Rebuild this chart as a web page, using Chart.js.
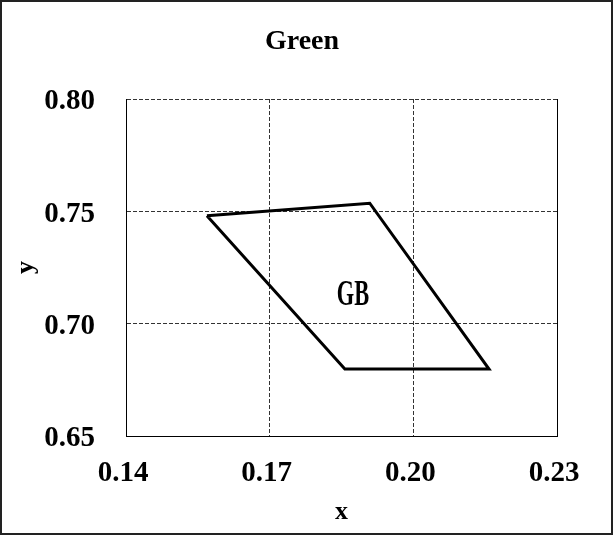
<!DOCTYPE html>
<html>
<head>
<meta charset="UTF-8">
<title>Green</title>
<script src="https://cdn.jsdelivr.net/npm/chart.js"></script>
<style>
  body { margin: 0; background: #fff; }
  #wrap { width: 613px; height: 540px; }
</style>
</head>
<body>
<div id="wrap"><canvas id="chart" width="613" height="540"></canvas></div>
<script>
// gamut corners (x, y), closed back to the first point
const cornerX = [0.1569, 0.1909, 0.2158, 0.1857, 0.1569];
const cornerY = [0.7480, 0.7536, 0.6798, 0.6798, 0.7480];
const xTicks = [0.14, 0.17, 0.20, 0.23];
const yTicks = [0.65, 0.70, 0.75, 0.80];
const chartTitle = 'Green';
const regionLabel = 'GB';
const labelPos = [0.1874, 0.7125];

const serif = '"Liberation Serif", "Times New Roman", serif';

// frame around the picture, title, solid right edge of plot, and the GB label
const decor = {
    id: 'decor',
    afterDraw(chart) {
        const ctx = chart.ctx;
        const a = chart.chartArea;
        ctx.save();
        ctx.setLineDash([]);
        ctx.strokeStyle = '#000';
        ctx.lineWidth = 1;
        ctx.beginPath();
        ctx.moveTo(a.right + 0.5, a.top);
        ctx.lineTo(a.right + 0.5, a.bottom);
        ctx.stroke();

        ctx.lineWidth = 2;
        ctx.strokeStyle = '#222';
        ctx.strokeRect(1, 1, 611, 533);

        ctx.fillStyle = '#000';
        ctx.textAlign = 'center';
        ctx.textBaseline = 'middle';
        ctx.font = 'bold 28px ' + serif;
        ctx.fillText(chartTitle, 302, 42);

        const sx = chart.scales.x, sy = chart.scales.y;
        const px = sx.getPixelForValue(labelPos[0]);
        const py = sy.getPixelForValue(labelPos[1]);
        ctx.translate(px, py);
        ctx.scale(0.64, 1);
        ctx.font = 'bold 35px ' + serif;
        ctx.fillText(regionLabel, 0, 0);
        ctx.restore();
    }
};

const points = cornerX.map((x, i) => ({ x, y: cornerY[i] }));

new Chart(document.getElementById('chart'), {
    type: 'scatter',
    data: {
        datasets: [{
            data: points,
            showLine: true,
            borderColor: '#000',
            borderWidth: 3,
            pointRadius: 0,
            fill: false,
            tension: 0
        }]
    },
    options: {
        responsive: false,
        animation: false,
        layout: { padding: { top: 99, right: 56, bottom: 0, left: 0 } },
        plugins: {
            legend: { display: false },
            tooltip: { enabled: false },
            title: { display: false }
        },
        scales: {
            x: {
                type: 'linear',
                min: 0.14,
                max: 0.23,
                afterBuildTicks: s => { s.ticks = xTicks.map(v => ({ value: v })); },
                afterFit: s => { s.height = 104; },
                ticks: {
                    color: '#000',
                    padding: 20,
                    labelOffset: -3,
                    font: { family: serif, size: 29, weight: 'bold' },
                    callback: v => v.toFixed(2)
                },
                grid: {
                    color: '#333',
                    drawTicks: false,
                    lineWidth: 1
                },
                border: { display: true, color: '#000', width: 1, dash: [4, 2] },
                title: {
                    display: true,
                    text: 'x',
                    color: '#000',
                    font: { family: serif, size: 26, weight: 'bold' },
                    padding: { top: 0, bottom: 12 }
                }
            },
            y: {
                type: 'linear',
                min: 0.65,
                max: 0.80,
                afterBuildTicks: s => { s.ticks = yTicks.map(v => ({ value: v })); },
                afterFit: s => { s.width = 126; },
                ticks: {
                    color: '#000',
                    padding: 31,
                    labelOffset: 3,
                    font: { family: serif, size: 29, weight: 'bold' },
                    callback: v => v.toFixed(2)
                },
                grid: {
                    color: '#333',
                    drawTicks: false,
                    lineWidth: 1
                },
                border: { display: true, color: '#000', width: 1, dash: [4, 2] },
                title: {
                    display: true,
                    text: 'y',
                    color: '#000',
                    font: { family: serif, size: 26, weight: 'bold' },
                    padding: { top: 11, bottom: 0 }
                }
            }
        }
    },
    plugins: [decor]
});
</script>
</body>
</html>
